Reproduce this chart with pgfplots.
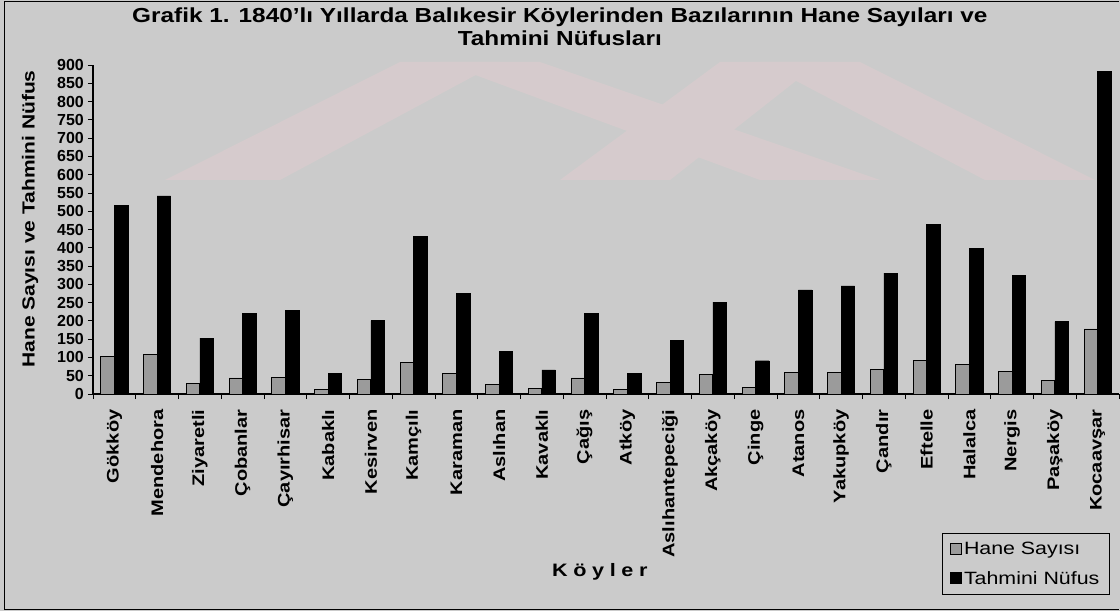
\documentclass[border=0pt]{standalone}
\usepackage{fontspec}
\setmainfont{Liberation Sans}[FakeStretch=1.2]
\newfontfamily\numfont{Liberation Sans}
\usepackage{pgfplots}
\pgfplotsset{compat=1.18}
\definecolor{bg}{RGB}{203,203,203}
\definecolor{wm}{RGB}{214,203,205}
\definecolor{hane}{RGB}{155,155,155}
\pgfplotstableread{
x hane nufus
0 103 517
1 109 542
2 30 153
3 44 221
4 46 228
5 12 57
6 41 201
7 87 431
8 56 276
9 25 117
10 14 66
11 44 221
12 12 56
13 32 147
14 53 251
15 19 91
16 59 285
17 60 296
18 66 331
19 92 465
20 80 399
21 62 324
22 36 198
23 178 882
}\datatable
\begin{document}
\begin{tikzpicture}[x=1pt,y=1pt]
\fill[bg] (0,0) rectangle (1120,611);
\path[use as bounding box] (0,0) rectangle (1120,611);
% faint watermark
\fill[wm] (165,431) -- (400,549) -- (500,549) -- (280,431) -- cycle;
\fill[wm] (440,549) -- (540,549) -- (880,431) -- (760,431) -- cycle;
\fill[wm] (560,431) -- (720,549) -- (820,549) -- (670,431) -- cycle;
\fill[wm] (760,549) -- (860,549) -- (1095,431) -- (985,431) -- cycle;
\draw[black, line width=1.2pt] (1119,609.5) -- (4.5,609.5) -- (4.5,1.5) -- (1119,1.5);
\begin{axis}[
  at={(93pt,217pt)}, anchor=south west,
  scale only axis, width=1026pt, height=329pt,
  ybar=0pt, bar width=13.5pt,
  xmin=-0.5, xmax=23.5, ymin=0, ymax=900,
  axis x line*=bottom, axis y line*=left,
  axis line style={line width=1.2pt},
  ytick={0,50,...,900},
  xtick={0,...,23},
  xticklabels={Gökköy,Mendehora,Ziyaretli,Çobanlar,Çayırhisar,Kabaklı,Kesirven,Kamçılı,Karaman,Aslıhan,Kavaklı,Çağış,Atköy,Aslıhantepeciği,Akçaköy,Çinge,Atanos,Yakupköy,Çandır,Eftelle,Halalca,Nergis,Paşaköy,Kocaavşar},
  x tick label style={rotate=90, anchor=east, font=\bfseries\fontsize{16.7}{17}\selectfont},
  xticklabel shift=7pt,
  major x tick style={draw=none},
  minor xtick={-0.5,0.5,...,23.5},
  tick align=outside, major tick length=5pt, minor tick length=5pt,
  tick style={black, line width=0.8pt},
  /pgf/number format/assume math mode=true,
  y tick label style={font=\numfont\bfseries\fontsize{16}{16}\selectfont, inner ysep=0pt, inner xsep=4pt},
  title={Grafik 1. 1840'lı Yıllarda Balıkesir Köylerinden Bazılarının Hane Sayıları ve\\Tahmini Nüfusları},
  title style={align=center, font=\bfseries\fontsize{20.3}{23}\selectfont, at={(axis description cs:0.455,1.097)}, anchor=center},
  ylabel={Hane Sayısı ve Tahmini Nüfus},
  ylabel style={at={(axis description cs:-0.0614,0.532)}, anchor=center, font=\bfseries\fontsize{17.5}{18}\selectfont},
  xlabel={K\kern5.6pt ö\kern5.6pt y\kern5.6pt l\kern5.6pt e\kern5.6pt r},
  xlabel style={at={(axis description cs:0.494,-0.541)}, anchor=center, font=\bfseries\fontsize{18}{18}\selectfont},
  legend style={at={(axis description cs:0.991,-0.611)}, anchor=south east, draw=black, line width=0.8pt, fill=bg, font=\fontsize{17.8}{20}\selectfont, row sep=11pt, inner xsep=8pt, inner ysep=7pt},
  legend cell align=left,
  legend image code/.code={\draw[#1, line width=0.8pt] (0pt,-5pt) rectangle (11pt,6pt);},
]
\addplot[draw=black, fill=hane, line width=0.8pt] table[x=x, y=hane] {\datatable};
\addplot[draw=black, fill=black] table[x=x, y=nufus] {\datatable};
\legend{Hane Sayısı, Tahmini Nüfus}
\end{axis}
\end{tikzpicture}
\end{document}
